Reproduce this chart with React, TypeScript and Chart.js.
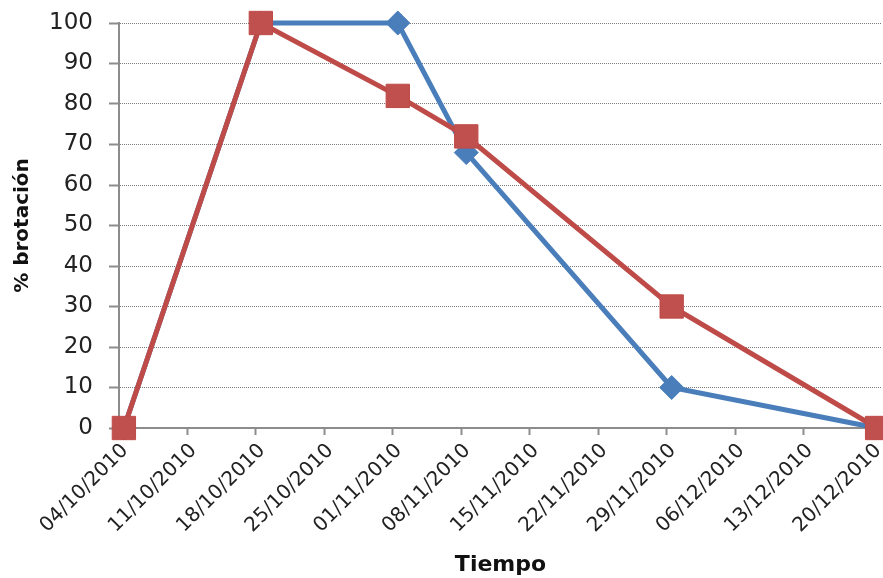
import React, { useEffect, useRef } from "react";
import { Chart, registerables } from "chart.js";

Chart.register(...registerables);

const tickDates = [
  "04/10/2010", "11/10/2010", "18/10/2010", "25/10/2010", "01/11/2010", "08/11/2010",
  "15/11/2010", "22/11/2010", "29/11/2010", "06/12/2010", "13/12/2010", "20/12/2010",
];
const sampleDates = ["04/10/2010", "18/10/2010", "01/11/2010", "08/11/2010", "29/11/2010", "20/12/2010"];
const seriesBlue = [0, 100, 100, 68, 10, 0];
const seriesRed = [0, 100, 82, 72, 30, 0];
const yMin = 0;
const yMax = 100;
const yStep = 10;

const toUTC = (s: string) => {
  const [d, m, y] = s.split("/").map(Number);
  return Date.UTC(y, m - 1, d);
};
const origin = toUTC(tickDates[0]);
const dayOffset = (s: string) => (toUTC(s) - origin) / 86400000;

const W = 883;
const H = 578;
const CANVAS_W = 900;
const PLOT_LEFT = 119;
const PLOT_RIGHT = 882;
const PLOT_TOP = 23;
const PLOT_BOTTOM = 428;

export default function App() {
  const ref = useRef<HTMLCanvasElement | null>(null);
  useEffect(() => {
    if (!ref.current) return;
    const font = "'DejaVu Sans', sans-serif";
    const chart = new Chart(ref.current, {
      type: "line",
      data: {
        datasets: [
          {
            label: "A",
            data: sampleDates.map((d, i) => ({ x: dayOffset(d), y: seriesBlue[i] })),
            borderColor: "#4A7EBB",
            backgroundColor: "#4A7EBB",
            borderWidth: 5,
            pointStyle: "rectRot",
            pointRadius: 12,
            pointBorderWidth: 1,
            pointBorderColor: "#4A7EBB",
            tension: 0,
            clip: false,
            order: 1,
          },
          {
            label: "B",
            data: sampleDates.map((d, i) => ({ x: dayOffset(d), y: seriesRed[i] })),
            borderColor: "#BE4B48",
            backgroundColor: "#C0504D",
            borderWidth: 5,
            pointStyle: "rect",
            pointRadius: 16.5,
            pointBorderWidth: 1,
            pointBorderColor: "#BE4B48",
            tension: 0,
            clip: false,
            order: 0,
          },
        ],
      },
      options: {
        animation: false,
        responsive: false,
        devicePixelRatio: 1,
        layout: { padding: { top: PLOT_TOP, right: CANVAS_W - PLOT_RIGHT, left: 0, bottom: 0 } },
        plugins: { legend: { display: false }, tooltip: { enabled: false } },
        scales: {
          x: {
            type: "linear",
            min: -0.5,
            max: dayOffset(tickDates[tickDates.length - 1]) + 0.5,
            afterBuildTicks: (axis: any) => {
              axis.ticks = tickDates.map((s) => ({ value: dayOffset(s) - 0.5 }));
            },
            afterFit: (axis: any) => {
              axis.height = H - PLOT_BOTTOM;
              axis.paddingLeft = 0;
              axis.paddingRight = 0;
            },
            ticks: {
              autoSkip: false,
              minRotation: 45,
              maxRotation: 45,
              color: "#222",
              font: { family: font, size: 20 },
              padding: 4,
              labelOffset: 6,
              callback: (_v: any, i: number) => tickDates[i],
            },
            grid: {
              drawOnChartArea: false,
              drawTicks: true,
              tickLength: 7,
              tickColor: "#8c8c8c",
              tickWidth: 2,
            },
            border: { display: true, color: "#8c8c8c", width: 2 },
            title: {
              display: true,
              text: "Tiempo",
              color: "#111",
              font: { family: font, size: 22, weight: "bold" },
              padding: { top: 0, bottom: 0 },
            },
          },
          y: {
            type: "linear",
            min: yMin,
            max: yMax,
            afterFit: (axis: any) => {
              axis.width = PLOT_LEFT;
              axis.paddingTop = 0;
              axis.paddingBottom = 0;
            },
            ticks: {
              stepSize: yStep,
              color: "#222",
              font: { family: font, size: 23 },
              padding: 16,
            },
            grid: {
              color: "#7a7a7a",
              lineWidth: 1,
              drawTicks: true,
              tickLength: 10,
              tickColor: "#8c8c8c",
              tickWidth: 2,
              tickBorderDash: [],
            },
            border: { display: true, color: "#8c8c8c", width: 2, dash: [1, 1] },
            title: {
              display: true,
              text: "% brotación",
              color: "#111",
              font: { family: font, size: 20, weight: "bold" },
              padding: { top: 11, bottom: 0 },
            },
          },
        },
      } as any,
    });
    return () => chart.destroy();
  }, []);
  return (
    <div style={{ position: "fixed", left: 0, top: 0, width: W, height: H, overflow: "hidden", background: "#fff" }}>
      <canvas ref={ref} width={CANVAS_W} height={H} style={{ display: "block" }} />
    </div>
  );
}
